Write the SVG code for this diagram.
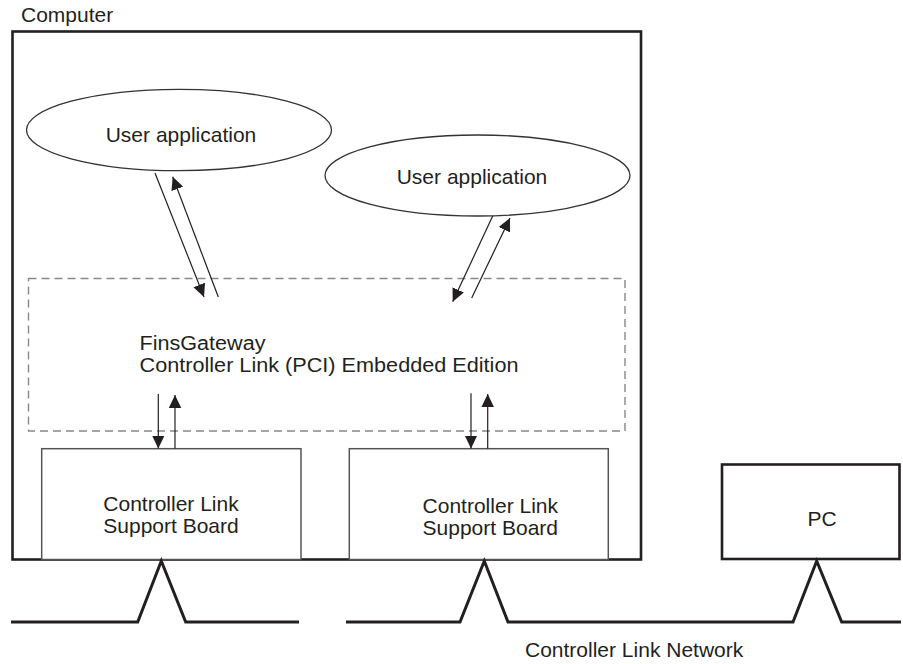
<svg xmlns="http://www.w3.org/2000/svg" width="903" height="664" viewBox="0 0 903 664">
<style>
text { font-family: "Liberation Sans", Arial, sans-serif; font-size: 21px; fill: #231f20; }
.tight { font-size: 20px; }
.frame { fill: none; stroke: #231f20; stroke-width: 2.6; }
.board { fill: #fff; stroke: #555; stroke-width: 1.5; }
.app { fill: #fff; stroke: #333; stroke-width: 1.3; }
.dash { fill: none; stroke: #888; stroke-width: 1.4; stroke-dasharray: 8 5; }
.arr { fill: none; stroke: #231f20; stroke-width: 1.2; marker-end: url(#ah); }
.net { fill: none; stroke: #231f20; stroke-width: 3; }
</style>
<defs>
<marker id="ah" markerUnits="userSpaceOnUse" markerWidth="14" markerHeight="13" refX="13" refY="6.25" orient="auto">
<path d="M0,0 L13,6.25 L0,12.5 z" fill="#231f20"/>
</marker>
</defs>
<text x="21" y="21.5">Computer</text>
<g id="computer">
<rect class="frame" x="12.5" y="31.5" width="628.5" height="528"/>
</g>
<g id="app1">
<ellipse class="app" cx="179" cy="130" rx="152.5" ry="40.7"/>
<text x="181" y="141.5" text-anchor="middle">User application</text>
</g>
<g id="app2">
<ellipse class="app" cx="477.5" cy="175.5" rx="152.5" ry="40.5"/>
<text x="472" y="184" text-anchor="middle">User application</text>
</g>
<g id="finsgateway">
<rect class="dash" x="28.5" y="278.5" width="596.5" height="152.5"/>
<text class="tight" x="139.5" y="349.5" textLength="126" lengthAdjust="spacingAndGlyphs">FinsGateway</text>
<text class="tight" x="139.5" y="371.5" textLength="379" lengthAdjust="spacingAndGlyphs">Controller Link (PCI) Embedded Edition</text>
</g>
<g id="board1">
<rect class="board" x="41.7" y="448.7" width="259.3" height="110.8"/>
<text x="171" y="510.7" text-anchor="middle">Controller Link</text>
<text x="171" y="532.5" text-anchor="middle">Support Board</text>
</g>
<g id="board2">
<rect class="board" x="349.3" y="448.7" width="259" height="110.8"/>
<text x="490.3" y="512.7" text-anchor="middle">Controller Link</text>
<text x="490.3" y="534.5" text-anchor="middle">Support Board</text>
</g>
<g id="pc">
<rect class="frame" x="722" y="464.5" width="177.5" height="94.5"/>
<text x="822" y="526" text-anchor="middle">PC</text>
</g>
<g id="connectors">
<line class="arr" x1="155" y1="173" x2="204" y2="297"/>
<line class="arr" x1="218.3" y1="297" x2="172.7" y2="176.7"/>
<line class="arr" x1="492.7" y1="216" x2="452.7" y2="301.7"/>
<line class="arr" x1="471.7" y1="298" x2="510" y2="218"/>
<line class="arr" x1="158.3" y1="394" x2="158.3" y2="448.5"/>
<line class="arr" x1="175" y1="448.5" x2="175" y2="395"/>
<line class="arr" x1="471" y1="393.3" x2="471" y2="448.5"/>
<line class="arr" x1="487.7" y1="448.5" x2="487.7" y2="394"/>
<polyline class="net" points="11,622 137.7,622 161.3,561 185.7,622 299,622"/>
<polyline class="net" points="346,622 460,622 484.3,561 508,622 793,622 816.7,561 841.7,622 901,622"/>
</g>
<text x="525" y="656.7">Controller Link Network</text>
</svg>
